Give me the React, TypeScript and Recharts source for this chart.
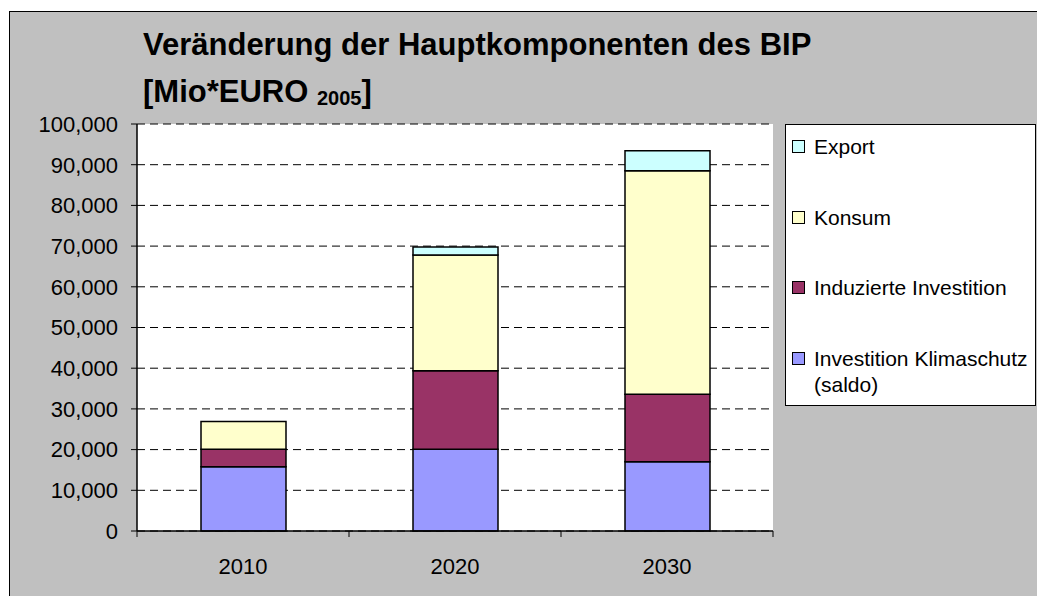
import { Bar, BarChart, CartesianGrid, Legend, XAxis, YAxis } from "recharts";

const years = ["2010", "2020", "2030"];
const klimaschutz = [15800, 20100, 17000];
const induziert = [4300, 19300, 16600];
const konsum = [6800, 28400, 54900];
const exporte = [0, 2000, 4900];
const yTicks = [0, 10000, 20000, 30000, 40000, 50000, 60000, 70000, 80000, 90000, 100000];

const series = [
  { key: "klima", name: "Investition Klimaschutz (saldo)", color: "#9999FF", values: klimaschutz },
  { key: "induziert", name: "Induzierte Investition", color: "#993366", values: induziert },
  { key: "konsum", name: "Konsum", color: "#FFFFCC", values: konsum },
  { key: "export", name: "Export", color: "#CCFFFF", values: exporte },
];

const data = years.map((year, i) => {
  const row: Record<string, string | number> = { year };
  series.forEach((s) => (row[s.key] = s.values[i]));
  return row;
});

const W = 1037;
const H = 596;
const PLOT_LEFT = 137;
const PLOT_RIGHT = 773;
const PLOT_TOP = 124;
const PLOT_BOTTOM = 531;
const FONT = "Arial, 'Liberation Sans', sans-serif";
const HALF_BAND = (PLOT_RIGHT - PLOT_LEFT) / years.length / 2;

const XTick = (props: any) => {
  const { x, y, payload, index } = props;
  return (
    <g>
      <line x1={x + HALF_BAND} y1={y} x2={x + HALF_BAND} y2={y + 6} stroke="#000" />
      {index === 0 && <line x1={x - HALF_BAND} y1={y} x2={x - HALF_BAND} y2={y + 6} stroke="#000" />}
      <text x={x} y={y + 43} textAnchor="middle" fontSize={22} fontFamily={FONT} fill="#000">
        {payload.value}
      </text>
    </g>
  );
};

// legend shows the stack top-down: Export first
const legendOrder = series.map((s) => s.name).reverse();

const LegendBox = (props: any) => {
  const items = [...(props.payload || [])].sort(
    (a: any, b: any) => legendOrder.indexOf(a.value) - legendOrder.indexOf(b.value)
  );
  return (
    <div
      style={{
        position: "relative",
        width: 251,
        height: 282,
        background: "#fff",
        border: "1.5px solid #000",
        boxSizing: "border-box",
        fontFamily: FONT,
        fontSize: 21,
        color: "#000",
      }}
    >
      {items.map((item: any, i: number) => (
        <div key={item.value} style={{ position: "absolute", left: 0, top: 22 + i * 70.5 - 13 }}>
          <div
            style={{
              position: "absolute",
              left: 6,
              top: 6,
              width: 13,
              height: 13,
              background: item.color,
              border: "1px solid #000",
              boxSizing: "border-box",
            }}
          />
          <div style={{ position: "absolute", left: 28, top: 0, width: 224, lineHeight: "26px" }}>
            {item.value}
          </div>
        </div>
      ))}
    </div>
  );
};

export default function App() {
  return (
    <div style={{ position: "absolute", left: 0, top: 0, width: W, height: H, overflow: "hidden", background: "#fff" }}>
      <div
        style={{
          position: "absolute",
          left: 9,
          top: 11,
          width: W + 40,
          height: H + 40,
          background: "#C0C0C0",
          border: "1.5px solid #000",
        }}
      />
      <svg style={{ position: "absolute", left: 0, top: 0 }} width={W} height={120}>
        <text x={143} y={55} fontSize={31} fontWeight="bold" fontFamily={FONT} fill="#000">
          Veränderung der Hauptkomponenten des BIP
        </text>
        <text x={143} y={102} fontSize={31} fontWeight="bold" fontFamily={FONT} fill="#000">
          [Mio*EURO{" "}
          <tspan fontSize={20} dy={3}>2005</tspan>
          <tspan dy={-3}>]</tspan>
        </text>
      </svg>
      <div style={{ position: "absolute", left: 0, top: 0 }}>
        <BarChart
          width={W}
          height={H}
          data={data}
          margin={{ top: PLOT_TOP, right: W - PLOT_RIGHT, bottom: H - PLOT_BOTTOM - 40, left: 0 }}
          barSize={85}
        >
          <CartesianGrid fill="#fff" vertical={false} stroke="#000" strokeDasharray="8 5" />
          <XAxis
            dataKey="year"
            height={40}
            tickLine={false}
            tickSize={0}
            tickMargin={0}
            axisLine={{ stroke: "#000", strokeWidth: 1.5 }}
            tick={<XTick />}
            interval={0}
          />
          <YAxis
            width={PLOT_LEFT}
            domain={[0, 100000]}
            ticks={yTicks}
            interval={0}
            tickSize={6}
            tickMargin={13}
            tickLine={{ stroke: "#000" }}
            axisLine={{ stroke: "#000", strokeWidth: 1.5 }}
            tickFormatter={(v: number) => v.toLocaleString("en-US")}
            tick={{ fontSize: 22, fontFamily: FONT, fill: "#000" }}
          />
          <Legend
            layout="vertical"
            align="center"
            verticalAlign="middle"
            wrapperStyle={{ left: 785, top: 124, width: 251, height: 282 }}
            content={<LegendBox />}
          />
          {series.map((s) => (
            <Bar
              key={s.key}
              dataKey={s.key}
              name={s.name}
              stackId="bip"
              fill={s.color}
              stroke="#000"
              strokeWidth={1.5}
              isAnimationActive={false}
            />
          ))}
        </BarChart>
      </div>
    </div>
  );
}
